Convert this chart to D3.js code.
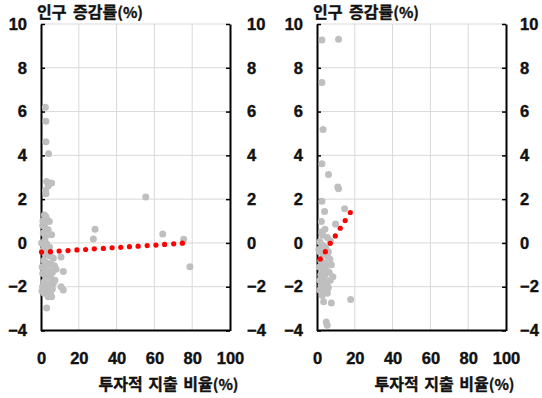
<!DOCTYPE html>
<html>
<head>
<meta charset="utf-8">
<script src="https://cdn.jsdelivr.net/npm/d3@7"></script>
<style>
  body { margin: 0; background: #fff; }
  text { font-family: "Noto Sans CJK KR", "Noto Sans", sans-serif; font-weight: bold; fill: #111; }
</style>
</head>
<body>
<div id="chart"></div>
<script>
// Tick values
const xTicks = [0, 20, 40, 60, 80, 100];
const yTicks = [-4, -2, 0, 2, 4, 6, 8, 10];
const yTitle = "인구 증감률";
const xTitle = "투자적 지출 비율";

// Left panel scatter: [투자적 지출 비율, 인구 증감률]
const leftPoints = [
    [2.3, 6.2], [2.6, 5.56], [2.6, 4.62], [4.0, 4.07], [3.0, 2.81], [5.6, 2.74], [3.8, 2.6], [2.6, 2.25], [2.4, 2.4],
    [55.4, 2.1], [28.6, 0.63], [27.7, 0.18], [64.4, 0.41], [75.5, 0.17], [78.8, -1.09],
    [1.8, 1.28], [2.6, 1.2], [3.2, 1.05], [4.4, 0.98], [0.9, 0.8], [2.0, 0.75], [3.8, 0.6], [5.6, 0.37], [1.2, 0.45],
    [2.5, 0.3], [0.3, 0.0], [1.5, -0.1], [3.0, -0.05], [4.5, -0.2], [1.0, -0.35], [2.2, -0.5], [3.5, -0.55],
    [5.0, -0.6], [6.5, -0.7], [10.6, -0.64], [1.5, -0.8], [2.8, -0.9], [4.2, -0.95], [5.8, -1.0], [7.2, -1.05],
    [0.6, -1.1], [2.0, -1.2], [3.3, -1.25], [4.6, -1.3], [6.0, -1.35], [8.0, -1.2], [11.8, -1.3], [0.9, -1.4],
    [2.5, -1.5], [3.8, -1.55], [5.2, -1.6], [7.4, -1.7], [1.4, -1.8], [3.0, -1.85], [4.5, -1.9], [6.5, -1.85],
    [0.8, -2.0], [2.2, -2.05], [10.6, -2.0], [11.8, -2.15], [1.6, -2.3], [3.5, -2.2], [5.0, -2.25], [3.8, -2.46],
    [5.6, -2.46], [3.0, -2.97], [0.5, -2.2], [6.0, -2.1], [4.0, -0.3], [2.0, 0.1], [1.0, 1.0]
];
// Left panel trend (red dots)
const leftTrend = [
    [0.3, -0.42], [5.0, -0.40], [9.6, -0.37], [14.3, -0.35], [19.0, -0.32], [23.6, -0.30], [28.2, -0.27],
    [33.0, -0.25], [37.6, -0.22], [42.2, -0.20], [46.8, -0.17], [51.4, -0.15], [56.2, -0.12], [60.8, -0.10],
    [65.4, -0.07], [70.2, -0.04], [74.8, -0.01]
];

// Right panel scatter
const rightPoints = [
    [2.6, 9.27], [11.4, 9.3], [2.6, 7.33], [3.2, 5.18], [2.6, 3.62], [6.1, 3.12], [11.4, 2.48], [11.0, 2.55],
    [2.6, 1.9], [4.0, 1.44], [14.6, 1.56], [2.3, 0.98], [9.8, 0.86], [4.2, 0.62], [3.0, 0.35], [5.5, 0.25],
    [7.0, 0.1], [1.5, 0.05], [2.8, -0.1], [4.5, -0.2], [1.4, -0.4], [3.2, -0.5], [5.5, -0.6], [6.8, -0.75],
    [2.0, -0.8], [4.0, -0.9], [7.6, -1.0], [1.2, -1.1], [3.0, -1.2], [5.0, -1.25], [6.5, -1.35], [2.0, -1.45],
    [4.0, -1.5], [8.4, -1.55], [1.5, -1.7], [3.3, -1.75], [5.5, -1.8], [7.0, -1.7], [2.2, -1.95], [4.2, -2.0],
    [6.0, -2.05], [1.5, -2.15], [3.5, -2.2], [5.5, -2.3], [2.8, -2.4], [17.8, -2.58], [3.5, -2.69], [7.6, -2.74],
    [4.9, -3.61], [5.4, -3.76], [1.0, -0.3], [6.0, -0.4], [2.5, 0.5], [4.5, -1.0]
];
// Right panel trend
const rightTrend = [
    [1.75, -0.73], [4.4, -0.4], [7.0, -0.02], [9.7, 0.32], [12.3, 0.67], [14.9, 1.02], [17.6, 1.39]
];

const width = 542, height = 398;
const plotTop = 24, plotBottom = 330.5;

const svg = d3.select("#chart")
    .append("svg")
    .attr("width", width)
    .attr("height", height);

function drawPanel(left, right, points, trend, rightPad) {
    const x = d3.scaleLinear().domain([0, 100]).range([left, right]);
    const y = d3.scaleLinear().domain([-4, 10]).range([plotBottom, plotTop]);
    const g = svg.append("g");

    // grid lines
    g.selectAll(".vgrid")
        .data(xTicks.filter(d => d > 0 && d < 100))
        .enter().append("line")
        .attr("x1", d => x(d)).attr("x2", d => x(d))
        .attr("y1", plotTop).attr("y2", plotBottom)
        .attr("stroke", "#d9d9d9").attr("stroke-width", 1);
    g.selectAll(".hgrid")
        .data(yTicks.filter(d => d > -4))
        .enter().append("line")
        .attr("x1", left).attr("x2", right)
        .attr("y1", d => y(d)).attr("y2", d => y(d))
        .attr("stroke", "#d9d9d9").attr("stroke-width", 1);

    // axes
    const yl = g.append("g")
        .attr("transform", `translate(${left},0)`)
        .call(d3.axisLeft(y).tickValues(yTicks).tickSizeInner(-4).tickSizeOuter(0).tickPadding(14));
    const yr = g.append("g")
        .attr("transform", `translate(${right},0)`)
        .call(d3.axisRight(y).tickValues(yTicks).tickSizeInner(-4).tickSizeOuter(0).tickPadding(rightPad));
    const xb = g.append("g")
        .attr("transform", `translate(0,${plotBottom})`)
        .call(d3.axisBottom(x).tickValues(xTicks).tickSize(0).tickPadding(22));

    [yl, yr, xb].forEach(a => {
        a.select(".domain").attr("stroke", "#000").attr("stroke-width", 2);
        a.selectAll(".tick line").attr("stroke", "#000").attr("stroke-width", 1.5);
        a.selectAll("text")
            .style("font-family", '"Liberation Sans", Arial, sans-serif')
            .style("font-weight", "bold")
            .style("font-size", "16.5px")
            .attr("fill", "#111")
            .attr("stroke", "#111")
            .attr("stroke-width", 0.4);
    });
    xb.select(".domain").attr("d", `M${left},0H${right}`);

    // scatter
    g.selectAll(".pt")
        .data(points)
        .enter().append("circle")
        .attr("cx", d => x(d[0]))
        .attr("cy", d => y(d[1]))
        .attr("r", 3.5)
        .attr("fill", "#bfbfbf");

    // trend dots
    g.selectAll(".trend")
        .data(trend)
        .enter().append("circle")
        .attr("cx", d => x(d[0]))
        .attr("cy", d => y(d[1]))
        .attr("r", 2.6)
        .attr("fill", "#ff0000");

    // titles
    const t = g.append("text")
        .attr("x", left - 4)
        .attr("y", 18)
        .style("font-size", "16px")
        .style("word-spacing", "3px")
        .attr("stroke", "#111").attr("stroke-width", 0.35);
    t.append("tspan").text(yTitle);
    t.append("tspan").style("font-size", "15px").text("(%)");

    const xt = g.append("text")
        .attr("x", (left + right) / 2 + 33)
        .attr("y", 390)
        .attr("text-anchor", "middle")
        .style("font-size", "16px")
        .style("word-spacing", "2px")
        .attr("stroke", "#111").attr("stroke-width", 0.35);
    xt.append("tspan").text(xTitle);
    xt.append("tspan").style("font-size", "15px").text("(%)");
}

drawPanel(41, 230, leftPoints, leftTrend, 17);
drawPanel(317, 506, rightPoints, rightTrend, 14);
</script>
</body>
</html>
